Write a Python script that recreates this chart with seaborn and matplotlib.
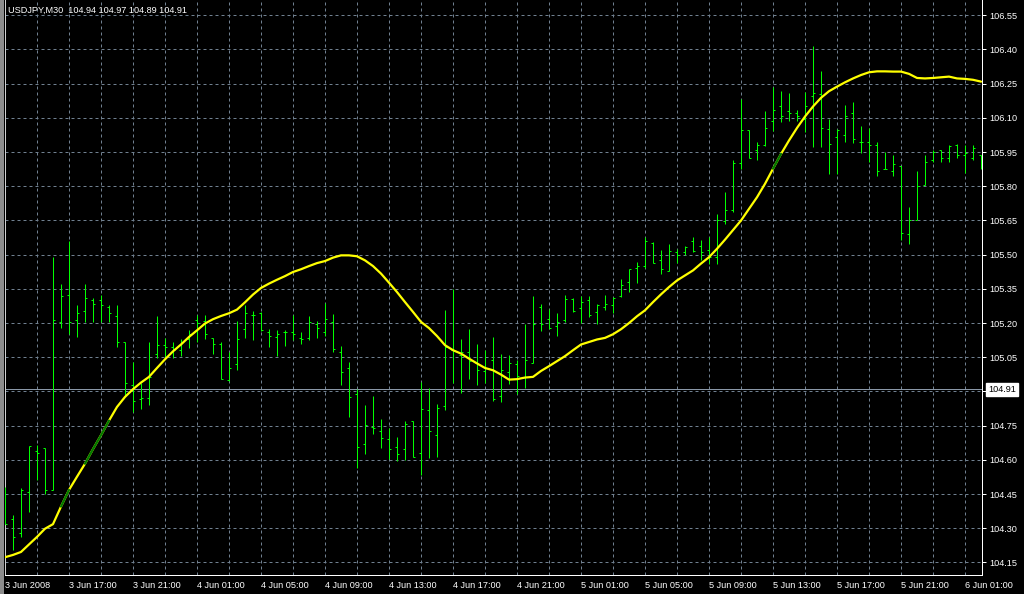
import numpy as np
import pandas as pd
import matplotlib
matplotlib.use("Agg")
import matplotlib.pyplot as plt
import seaborn as sns

# ---------------- data ----------------
chart_title = "USDJPY,M30  104.94 104.97 104.89 104.91"
bid_price = 104.91

x_tick_labels = ["3 Jun 2008", "3 Jun 17:00", "3 Jun 21:00", "4 Jun 01:00", "4 Jun 05:00",
                 "4 Jun 09:00", "4 Jun 13:00", "4 Jun 17:00", "4 Jun 21:00", "5 Jun 01:00",
                 "5 Jun 05:00", "5 Jun 09:00", "5 Jun 13:00", "5 Jun 17:00", "5 Jun 21:00",
                 "6 Jun 01:00"]
y_tick_values = [104.15, 104.30, 104.45, 104.60, 104.75, 104.90, 105.05, 105.20, 105.35,
                 105.50, 105.65, 105.80, 105.95, 106.10, 106.25, 106.40, 106.55]

opens = [104.40, 104.34, 104.28, 104.46, 104.64, 104.65, 104.47, 105.205, 105.325, 105.215,
         105.255, 105.30, 105.30, 105.27, 105.23, 105.115, 104.93, 104.865, 104.87, 105.065,
         105.105, 105.095, 105.08, 105.13, 105.215, 105.21, 105.135, 105.11, 104.95, 105.02,
         105.175, 105.235, 105.245, 105.16, 105.14, 105.16, 105.16, 105.135, 105.135, 105.195,
         105.16, 105.205, 105.075, 105.005, 104.89, 104.668, 104.745, 104.726, 104.69, 104.655,
         104.647, 104.77, 104.628, 104.82, 104.708, 104.837, 105.084, 105.06, 105.075, 105.023,
         104.989, 105.037, 104.879, 104.986, 105.019, 104.964, 105.025, 105.27, 105.217, 105.186,
         105.215, 105.305, 105.268, 105.303, 105.247, 105.27, 105.278, 105.317, 105.38, 105.443,
         105.449, 105.553, 105.478, 105.427, 105.512, 105.512, 105.558, 105.536, 105.519, 105.489,
         105.646, 105.697, 105.90, 106.045, 105.957, 105.979, 106.088, 106.15, 106.13, 106.12,
         106.096, 106.198, 106.205, 106.052, 106.015, 106.026, 106.12, 105.996, 105.993, 105.979,
         105.877, 105.868, 105.888, 105.589, 105.654, 105.807, 105.916, 105.957, 105.925, 105.983,
         105.935, 105.925, 105.935]
highs = [104.48, 104.36, 104.475, 104.66, 104.665, 104.65, 105.49, 105.37, 105.56, 105.28,
         105.37, 105.31, 105.325, 105.28, 105.28, 105.115, 105.03, 104.935, 105.115, 105.23,
         105.135, 105.115, 105.13, 105.17, 105.235, 105.237, 105.135, 105.115, 105.075, 105.21,
         105.28, 105.255, 105.25, 105.175, 105.17, 105.17, 105.235, 105.16, 105.23, 105.21,
         105.29, 105.24, 105.10, 105.03, 104.91, 104.84, 104.88, 104.78, 104.738, 104.70,
         104.77, 104.77, 104.94, 104.916, 104.847, 105.256, 105.348, 105.128, 105.175, 105.106,
         105.081, 105.139, 105.066, 105.059, 105.037, 105.198, 105.317, 105.285, 105.263, 105.245,
         105.325, 105.31, 105.317, 105.317, 105.285, 105.325, 105.314, 105.395, 105.439, 105.468,
         105.577, 105.555, 105.519, 105.548, 105.526, 105.536, 105.577, 105.566, 105.577, 105.677,
         105.777, 105.917, 106.183, 106.048, 105.996, 106.128, 106.234, 106.22, 106.21, 106.135,
         106.212, 106.417, 106.307, 106.096, 106.052, 106.158, 106.168, 106.066, 106.056, 105.996,
         105.95, 105.939, 105.888, 105.708, 105.869, 105.938, 105.957, 105.957, 105.979, 105.986,
         105.979, 105.979, 105.939]
lows = [104.32, 104.205, 104.26, 104.37, 104.51, 104.45, 104.47, 105.18, 105.15, 105.14,
        105.205, 105.205, 105.205, 105.205, 105.095, 104.88, 104.81, 104.825, 104.84, 105.045,
        105.05, 105.045, 105.055, 105.09, 105.115, 105.13, 105.065, 104.955, 104.945, 104.995,
        105.135, 105.125, 105.167, 105.095, 105.055, 105.10, 105.125, 105.11, 105.125, 105.135,
        105.145, 105.075, 104.93, 104.79, 104.565, 104.625, 104.713, 104.653, 104.602, 104.596,
        104.598, 104.613, 104.533, 104.606, 104.613, 104.818, 104.935, 104.894, 104.955, 104.927,
        104.935, 104.859, 104.855, 104.931, 104.891, 104.917, 105.025, 105.165, 105.176, 105.145,
        105.205, 105.249, 105.20, 105.227, 105.198, 105.256, 105.245, 105.314, 105.336, 105.376,
        105.443, 105.465, 105.417, 105.427, 105.465, 105.497, 105.512, 105.475, 105.457, 105.457,
        105.636, 105.687, 105.877, 105.925, 105.917, 105.978, 106.044, 106.081, 106.088, 106.088,
        106.037, 105.974, 105.974, 105.855, 105.855, 105.993, 105.989, 105.947, 105.906, 105.843,
        105.877, 105.847, 105.566, 105.548, 105.65, 105.807, 105.906, 105.906, 105.906, 105.925,
        105.859, 105.916, 105.877]
closes = [104.32, 104.26, 104.47, 104.66, 104.63, 104.47, 105.215, 105.32, 105.205, 105.245,
          105.31, 105.285, 105.28, 105.245, 105.115, 104.935, 104.86, 104.87, 104.965, 105.105,
          105.095, 105.08, 105.115, 105.15, 105.20, 105.15, 105.11, 104.955, 105.005, 105.13,
          105.245, 105.235, 105.17, 105.145, 105.15, 105.16, 105.15, 105.13, 105.205, 105.18,
          105.217, 105.085, 104.985, 104.875, 104.655, 104.755, 104.738, 104.697, 104.647, 104.625,
          104.757, 104.613, 104.825, 104.726, 104.828, 105.095, 105.076, 105.075, 105.033, 104.996,
          105.004, 104.865, 104.996, 105.025, 104.967, 105.037, 105.198, 105.198, 105.178, 105.205,
          105.307, 105.253, 105.291, 105.235, 105.278, 105.285, 105.31, 105.369, 105.439, 105.449,
          105.558, 105.465, 105.439, 105.516, 105.497, 105.533, 105.516, 105.512, 105.489, 105.653,
          105.697, 105.90, 106.048, 105.925, 105.979, 106.056, 106.136, 106.11, 106.123, 106.11,
          106.15, 106.21, 106.056, 105.986, 106.048, 106.11, 106.008, 105.996, 105.979, 105.866,
          105.877, 105.899, 105.595, 105.65, 105.799, 105.906, 105.95, 105.925, 105.976, 105.939,
          105.947, 105.969, 105.92]
moving_avg = [104.173, 104.183, 104.196, 104.229, 104.262, 104.298, 104.318, 104.395, 104.468, 104.526,
              104.583, 104.647, 104.708, 104.772, 104.832, 104.876, 104.91, 104.939, 104.964, 105.003,
              105.041, 105.076, 105.106, 105.139, 105.168, 105.198, 105.217, 105.231, 105.243, 105.259,
              105.291, 105.325, 105.354, 105.373, 105.39, 105.406, 105.424, 105.436, 105.45, 105.463,
              105.472, 105.487, 105.497, 105.497, 105.493, 105.475, 105.45, 105.417, 105.377, 105.336,
              105.292, 105.249, 105.205, 105.178, 105.143, 105.103, 105.081, 105.066, 105.044, 105.023,
              105.003, 104.993, 104.974, 104.952, 104.954, 104.961, 104.964, 104.99, 105.011, 105.033,
              105.055, 105.081, 105.106, 105.117, 105.128, 105.135, 105.151, 105.173, 105.20, 105.23,
              105.256, 105.292, 105.326, 105.358, 105.387, 105.409, 105.431, 105.461, 105.489, 105.526,
              105.566, 105.608, 105.65, 105.701, 105.752, 105.811, 105.877, 105.942, 106.001, 106.056,
              106.106, 106.15, 106.188, 106.217, 106.237, 106.256, 106.273, 106.288, 106.30, 106.304,
              106.304, 106.303, 106.303, 106.293, 106.275, 106.273, 106.275, 106.278, 106.281, 106.273,
              106.271, 106.267, 106.259]
ma_dark_segments = [(7, 8), (10, 13), (96, 97)]

# ---------------- style ----------------
sns.set_theme(style="dark", rc={"axes.facecolor": "black", "figure.facecolor": "black",
                                "axes.edgecolor": "white", "text.color": "white",
                                "xtick.color": "white", "ytick.color": "white"})
plt.rcParams['font.family'] = ['Liberation Sans', 'DejaVu Sans']

W, H = 1024, 594
fig = plt.figure(figsize=(W / 100, H / 100), dpi=100, facecolor="black")
ax_l, ax_r, ax_t, ax_b = 4.5, 982.0, 0.0, 575.0
ax = fig.add_axes([ax_l / W, (H - ax_b) / H, (ax_r - ax_l) / W, (ax_b - ax_t) / H])
ax.set_facecolor("black")

# window frame strip at far left
fig.patches.append(plt.Rectangle((0, 0), 3.5 / W, 1, transform=fig.transFigure,
                                 facecolor="#8c8c8c", edgecolor="none", zorder=0))

idx = np.arange(len(opens))
df = pd.DataFrame({"bar": idx, "open": opens, "high": highs, "low": lows,
                   "close": closes, "ma": moving_avg})

bar_col = "#00ff00"
lw = 0.72
common = dict(colors=bar_col, linewidth=lw, zorder=3, antialiased=True, snap=True)
ax.vlines(df["bar"], df["low"], df["high"], **common)
ax.hlines(df["open"], df["bar"] - 0.3, df["bar"], **common)
ax.hlines(df["close"], df["bar"], df["bar"] + 0.3, **common)

sns.lineplot(data=df, x="bar", y="ma", color="#ffff00", linewidth=1.6, ax=ax, zorder=4)
for a, b in ma_dark_segments:
    sns.lineplot(data=df.iloc[a:b + 1], x="bar", y="ma", color="#007800", linewidth=1.6,
                 ax=ax, zorder=5)

# bid line
ax.axhline(bid_price, color="#8a98a8", linewidth=0.72, zorder=2)

# axes limits
ax.set_xlim(-0.06, 122.12)
ax.set_ylim(104.095, 106.617)

# ticks (the 104.90 label is hidden under the bid price box in the reference)
ax.yaxis.tick_right()
ax.set_yticks(y_tick_values)
ax.set_yticklabels(["" if abs(v - bid_price) < 0.03 else f"{v:.2f}" for v in y_tick_values])
ax.set_xticks(np.arange(0, 8 * len(x_tick_labels), 8))
ax.set_xticklabels(x_tick_labels)
ax.set_xticks(np.arange(4, 121, 8), minor=True)
for lab in ax.get_xticklabels():
    lab.set_ha("left")
ax.tick_params(axis="y", which="major", colors="white", length=3, width=0.72, pad=2,
               labelsize=6.6, direction="out")
ax.tick_params(axis="x", which="major", colors="white", length=3, width=0.72, pad=1.5,
               labelsize=6.6, direction="out")
ax.tick_params(axis="x", which="minor", length=0)
ax.set_xlabel("")
ax.set_ylabel("")

# grid
ax.grid(True, which="both", color="#708090", linewidth=0.72, linestyle=(0, (3, 3)))
ax.set_axisbelow(True)

# spines
ax.spines["top"].set_visible(False)
ax.spines["right"].set_color("white")
ax.spines["bottom"].set_color("white")
ax.spines["left"].set_color("#d0d0d0")
for s in ["right", "bottom", "left"]:
    ax.spines[s].set_linewidth(0.72)

# bid price label
ax.annotate(f"{bid_price:.2f}", xy=(1, bid_price), xycoords=("axes fraction", "data"),
            xytext=(4.5, 0), textcoords="offset points", ha="left", va="center",
            color="black", fontsize=6.6, annotation_clip=False, zorder=10,
            bbox=dict(boxstyle="square,pad=0.2", fc="white", ec="white"))

# title
fig.text(8 / W, 1 - 10.5 / H, chart_title, color="white", fontsize=6.6, ha="left", va="center")

fig.savefig("out.png", dpi=100, facecolor="black")
